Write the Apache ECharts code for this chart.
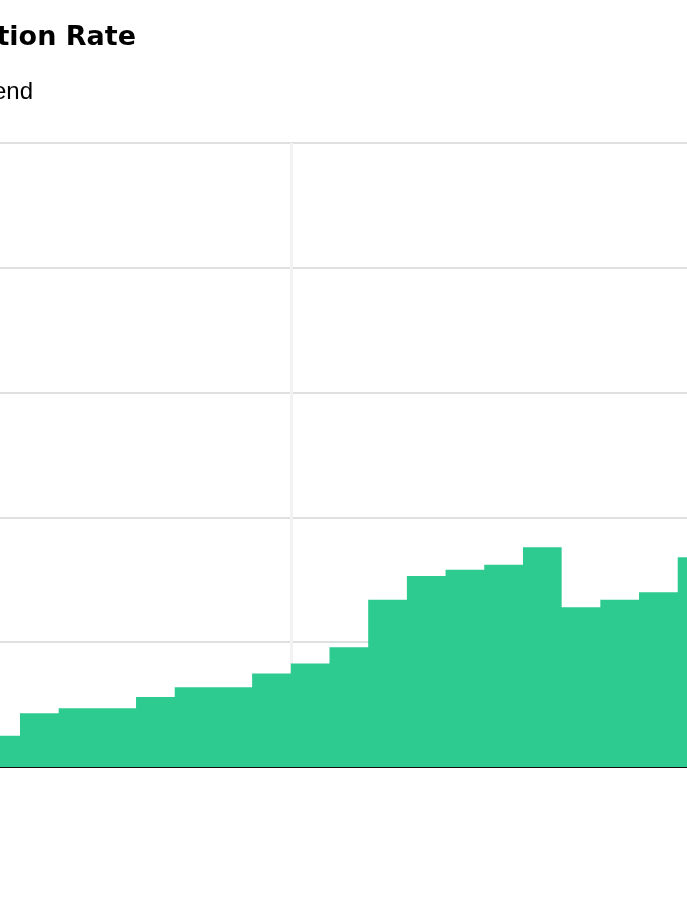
<!DOCTYPE html>
<html>
<head>
<meta charset="utf-8">
<script src="https://cdn.jsdelivr.net/npm/echarts@6/dist/echarts.min.js"></script>
<style>
  html, body { margin: 0; padding: 0; background: #ffffff; }
  #chart { width: 687px; height: 916px; }
</style>
</head>
<body>
<div id="chart"></div>
<script>
// ---- Data ----
const titleText = "Inflation Rate";
const subtitleText = "Monthly trend";
// month index (12 = start of the year marked by the vertical grid line)
const monthIndex = [4, 5, 6, 7, 8, 9, 10, 11, 12, 13, 14, 15, 16, 17, 18, 19, 20, 21, 22];
const rateValues = [0.25, 0.43, 0.47, 0.47, 0.56, 0.64, 0.64, 0.75, 0.83, 0.96, 1.34, 1.53, 1.58, 1.62, 1.76, 1.28, 1.34, 1.40, 1.68];
const yTicks = [0, 1, 2, 3, 4, 5];

// step data: each value holds over its month; close last month
const stepData = monthIndex.map((m, i) => [m, rateValues[i]]);
stepData.push([monthIndex[monthIndex.length - 1] + 1, rateValues[rateValues.length - 1]]);

const chart = echarts.init(document.getElementById('chart'), null, { renderer: 'canvas' });

const option = {
  backgroundColor: '#ffffff',
  animation: false,
  graphic: [
    {
      type: 'text', right: 551, top: 24,
      style: { text: titleText, font: 'bold 27px "DejaVu Sans", sans-serif', fill: '#000000', textAlign: 'right' }
    },
    {
      type: 'text', right: 654, top: 80,
      style: { text: subtitleText, font: '24px "Liberation Sans", Arial, sans-serif', fill: '#000000', textAlign: 'right' }
    }
  ],
  grid: {
    left: -173.5, right: -68.1, top: 143, bottom: 149,
    containLabel: false,
    outerBoundsMode: 'none'
  },
  xAxis: {
    type: 'value',
    min: 0, max: 24, interval: 12,
    axisLine: { show: true, onZero: false, lineStyle: { color: '#111111', width: 2 } },
    axisTick: { show: false },
    axisLabel: { show: false },
    splitLine: { show: true, lineStyle: { color: '#f2f2f2', width: 3 } }
  },
  yAxis: {
    type: 'value',
    min: yTicks[0], max: yTicks[yTicks.length - 1], interval: 1,
    axisLine: { show: false },
    axisTick: { show: false },
    axisLabel: { show: false },
    splitLine: { show: true, lineStyle: { color: '#d6d6d6', width: 1.5 } }
  },
  series: [{
    type: 'line',
    step: 'end',
    data: stepData,
    symbol: 'none',
    lineStyle: { width: 0 },
    areaStyle: { color: '#2ecb91', opacity: 1 },
    clip: true
  }]
};
chart.setOption(option);
</script>
</body>
</html>
